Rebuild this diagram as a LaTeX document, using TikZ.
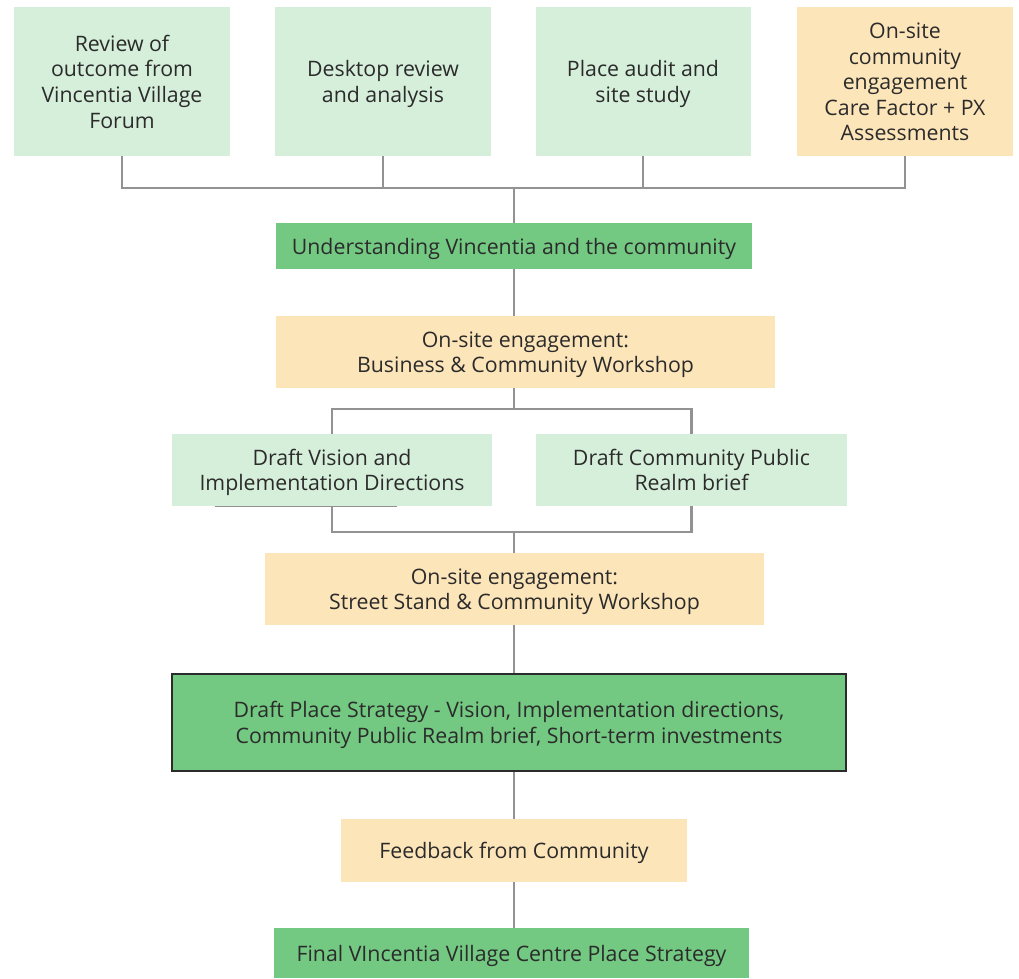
\documentclass[tikz,border=0pt]{standalone}
\usepackage{fontspec}
\setmainfont{Open Sans}
\definecolor{lgreen}{HTML}{D6EFDA}
\definecolor{lorange}{HTML}{FDE5BA}
\definecolor{mgreen}{HTML}{73C982}
\definecolor{lgray}{HTML}{929292}
\definecolor{txt}{HTML}{2B2B2B}
\newcommand\mytx[1]{\raisebox{-3pt}[\height][\depth]{\begin{tabular}{@{}c@{}}#1\end{tabular}}}
\begin{document}
\begin{tikzpicture}[x=1pt,y=-1pt,
  box/.style={rectangle, inner sep=0pt, text=txt,
    font=\fontsize{21.3}{25.6}\selectfont},
  conn/.style={draw=lgray, line width=2.4pt}]
\useasboundingbox (0,0) rectangle (1019,978);
% top row
\node[box, fill=lgreen, minimum width=216pt, minimum height=149pt] (r1) at (122,81.5) {\mytx{Review of\\outcome from\\Vincentia Village\\Forum}};
\node[box, fill=lgreen, minimum width=216pt, minimum height=149pt] (r2) at (383,81.5) {\mytx{Desktop review\\and analysis}};
\node[box, fill=lgreen, minimum width=215pt, minimum height=149pt] (r3) at (643,81.5) {\mytx{Place audit and\\site study}};
\node[box, fill=lorange, minimum width=216pt, minimum height=149pt] (r4) at (905,81.5) {\mytx{On-site\\community\\engagement\\Care Factor + PX\\Assessments}};
\node[box, fill=mgreen, minimum width=476pt, minimum height=46pt] (und) at (514,246) {\mytx{Understanding Vincentia and the community}};
\node[box, fill=lorange, minimum width=499pt, minimum height=72pt] (bus) at (525.5,352) {\mytx{On-site engagement:\\Business \& Community Workshop}};
\node[box, fill=lgreen, minimum width=320pt, minimum height=72pt] (dv) at (332,470) {\mytx{Draft Vision and\\Implementation Directions}};
\node[box, fill=lgreen, minimum width=311pt, minimum height=72pt] (dc) at (691.5,470) {\mytx{Draft Community Public\\Realm brief}};
\node[box, fill=lorange, minimum width=499pt, minimum height=72pt] (ss) at (514.5,589) {\mytx{On-site engagement:\\Street Stand \& Community Workshop}};
\node[box, fill=mgreen, draw=txt, line width=2pt, minimum width=674pt, minimum height=97pt] (dps) at (509,722.5) {\mytx{Draft Place Strategy - Vision, Implementation directions,\\Community Public Realm brief, Short-term investments}};
\node[box, fill=lorange, minimum width=346pt, minimum height=63pt] (fb) at (514,850.5) {\mytx{Feedback from Community}};
\node[box, fill=mgreen, minimum width=475pt, minimum height=50pt] (fin) at (511.5,953) {\mytx{Final VIncentia Village Centre Place Strategy}};
% bus coordinates
\coordinate (b1) at (514,188);
\coordinate (b2) at (514,409);
\coordinate (b3) at (514,532);
% connectors
\draw[conn] (r1.south) |- (b1);
\draw[conn] (r2.south) |- (b1);
\draw[conn] (r3.south) |- (b1);
\draw[conn] (r4.south) |- (b1);
\draw[conn] (b1) -- (b1 |- und.north);
\draw[conn] (und.south -| b1) -- (b1 |- bus.north);
\draw[conn] (bus.south -| b1) -- (b2);
\draw[conn] (b2) -| (dv.north);
\draw[conn] (b2) -| (dc.north);
\draw[conn] (dv.south) |- (b3);
\draw[conn] (dc.south) |- (b3);
\draw[conn] (b3) -- (b3 |- ss.north);
\draw[conn] (ss.south -| b1) -- (b1 |- dps.north);
\draw[conn] (dps.south -| b1) -- (b1 |- fb.north);
\draw[conn] (fb.south -| b1) -- (b1 |- fin.north);
% faint line under draft vision box
\draw[draw=lgray, line width=1pt] ([xshift=43pt]dv.south west) -- ([xshift=-95pt]dv.south east);
\end{tikzpicture}
\end{document}
